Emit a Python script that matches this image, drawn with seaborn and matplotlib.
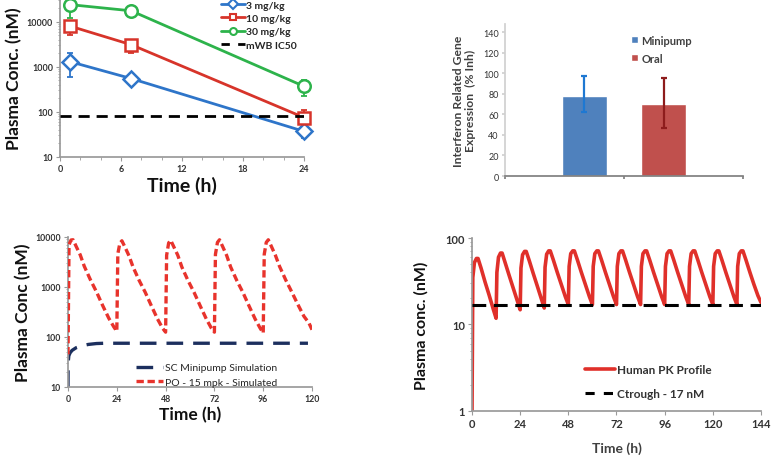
import pandas as pd
import matplotlib
matplotlib.use("Agg")
from matplotlib import pyplot as plt
from matplotlib.ticker import FuncFormatter, LogLocator, NullFormatter, MultipleLocator
from matplotlib.lines import Line2D
from matplotlib.patches import Patch
import seaborn as sns

# --- top left: single dose mouse PK ---
pk_time = [1, 7, 24]
dose_labels = ["3 mg/kg", "10 mg/kg", "30 mg/kg"]
conc_3 = [1300, 550, 37]
conc_10 = [8000, 3100, 75]
conc_30 = [24000, 17500, 370]
low_3 = [600, 480, 26]
high_3 = [2000, 620, 46]
low_10 = [5200, 2000, 65]
high_10 = [9500, 3800, 110]
low_30 = [12000, 16000, 230]
high_30 = [27000, 19000, 500]
ic50_time = [0, 24]
ic50_conc = [80, 80]

# --- top right: inhibition bars ---
bar_groups = ["Minipump", "Oral"]
bar_values = [78, 70]
bar_low = [62, 47]
bar_high = [97, 95]

# --- bottom left: simulated profiles (mouse) ---
sc_time = [0, 0.05, 0.4, 1, 2, 4, 7, 10, 14, 18, 118]
sc_conc = [10, 30, 42, 48, 54, 61, 67, 71, 74, 75, 75]
po_doses = [0, 24, 48, 72, 96]
po_offsets = [0, 0.5, 1.5, 2.5, 4, 6, 8, 11, 14, 17, 20, 22.5]
po_cycles = [
    [45, 7000, 8700, 8800, 6500, 4400, 2600, 1400, 800, 430, 240, 160],
    [130, 4600, 7500, 8400, 6300, 4200, 2500, 1350, 780, 420, 230, 150],
    [125, 4300, 7600, 8600, 6400, 4300, 2500, 1350, 780, 420, 230, 150],
    [125, 4500, 7800, 8800, 6500, 4300, 2500, 1350, 780, 420, 230, 150],
    [120, 4500, 7800, 8800, 6500, 4300, 2600, 1400, 800, 450, 260, 190],
]
po_end = [120, 140]

# --- bottom right: human PK projection ---
hu_doses = [0, 12, 24, 36, 48, 60, 72, 84, 96, 108, 120, 132]
hu_offsets = [0, 0.4, 1.2, 2.2, 3.0, 4.5, 6.5, 8.5, 10.5]
hu_cycles = [
    [1, 35, 52, 58, 58, 45, 31, 22, 15.3],
    [11.8, 40, 60, 67, 67, 52, 37, 26.5, 19],
    [14.8, 45, 64, 70, 70, 55, 39, 28, 20],
    [15.5, 46, 65, 71, 71, 56, 40, 29, 21],
    [17, 47, 66, 71, 71, 56, 40, 29, 21],
    [17, 47, 66, 71, 71, 56, 40, 29, 21],
    [17, 47, 66, 71, 71, 56, 40, 29, 21],
    [17, 47, 66, 71, 71, 56, 40, 29, 21],
    [17, 47, 66, 71, 71, 56, 40, 29, 21],
    [17, 47, 66, 71, 71, 56, 40, 29, 21],
    [17, 47, 66, 71, 71, 56, 40, 29, 21],
    [17, 47, 66, 71, 71, 56, 40, 29, 21.5],
]
hu_end = [144, 18]
ctrough_time = [0, 144]
ctrough_conc = [17, 17]

sns.set_theme(style="white")
plt.rcParams["font.family"] = ["Lato", "DejaVu Sans"]
plt.rcParams["axes.edgecolor"] = "#9a9a9a"
plt.rcParams["xtick.color"] = "#9a9a9a"
plt.rcParams["ytick.color"] = "#9a9a9a"
plt.rcParams["xtick.labelcolor"] = "#333333"
plt.rcParams["ytick.labelcolor"] = "#333333"

fig = plt.figure(figsize=(7.71, 4.64), dpi=100)
plain = FuncFormatter(lambda v, p: f"{v:g}")


def clean(ax, log=True):
    sns.despine(ax=ax)
    ax.tick_params(axis="both", which="major", direction="out", length=3, width=0.8,
                   bottom=True, left=True, pad=2)
    ax.tick_params(axis="both", which="minor", direction="out", length=1.8, width=0.6,
                   bottom=True, left=True)
    if log:
        ax.yaxis.set_major_formatter(plain)
        ax.yaxis.set_minor_locator(LogLocator(base=10, subs=range(2, 10)))
        ax.yaxis.set_minor_formatter(NullFormatter())


# ---------- panel 1 ----------
ax1 = fig.add_axes([0.0778, 0.6595, 0.3165, 0.3405])
ax1.set_yscale("log")
colors1 = ["#2E75C9", "#D7342A", "#2DB34B"]
markers1 = ["D", "s", "o"]
for conc, lo, hi, col, mk in zip([conc_3, conc_10, conc_30], [low_3, low_10, low_30],
                                 [high_3, high_10, high_30], colors1, markers1):
    err = [[c - l for c, l in zip(conc, lo)], [h - c for c, h in zip(conc, hi)]]
    ax1.errorbar(pk_time, conc, yerr=err, fmt="none", ecolor=col, elinewidth=1.3,
                 capsize=2.5, capthick=1.3, zorder=2, clip_on=False)
    sns.lineplot(x=pk_time, y=conc, ax=ax1, color=col, marker=mk, markersize=9 if mk != "D" else 8,
                 markerfacecolor="white", markeredgecolor=col, markeredgewidth=1.8,
                 linewidth=2, zorder=3, clip_on=False)
sns.lineplot(x=ic50_time, y=ic50_conc, ax=ax1, color="black", linewidth=2,
             linestyle=(0, (4, 2.5)), zorder=4)
ax1.set_xlim(0, 24)
ax1.set_ylim(10, 32000)
ax1.xaxis.set_major_locator(MultipleLocator(6))
ax1.xaxis.set_minor_locator(MultipleLocator(2))
clean(ax1)
ax1.tick_params(labelsize=6.5)
for t in ax1.get_xticklabels() + ax1.get_yticklabels():
    t.set_fontweight("bold")
ax1.set_xlabel("Time (h)", fontsize=14, fontweight="bold", color="#111111", labelpad=2)
ax1.set_ylabel("Plasma Conc. (nM)", fontsize=12.5, fontweight="bold", color="#111111", labelpad=3)
h1 = [Line2D([], [], color=c, marker=m, markersize=5, markerfacecolor="white",
             markeredgewidth=1.5, linewidth=2) for c, m in zip(colors1, markers1)]
h1.append(Line2D([], [], color="black", linewidth=2, linestyle=(0, (3, 3))))
leg1 = ax1.legend(h1, dose_labels + ["mWB IC50"], loc="upper left", bbox_to_anchor=(0.66, 0.99),
                  frameon=False, fontsize=7.5, handlelength=2.3, handletextpad=0.1,
                  labelspacing=0.38, borderaxespad=0, borderpad=0)
for t in leg1.get_texts():
    t.set_fontweight("bold")

# ---------- panel 2 ----------
ax2 = fig.add_axes([0.655, 0.6185, 0.3087, 0.3276])
bar_colors = ["#4F81BD", "#C0504D"]
err_colors = ["#1E78D2", "#8E1C1C"]
sns.barplot(x=bar_groups, y=bar_values, hue=bar_groups, palette=bar_colors, width=0.57,
            ax=ax2, legend=False, saturation=1)
for i, (v, lo, hi, ec) in enumerate(zip(bar_values, bar_low, bar_high, err_colors)):
    ax2.errorbar([i], [v], yerr=[[v - lo], [hi - v]], fmt="none", ecolor=ec, elinewidth=1.6,
                 capsize=2, capthick=1.6)
ax2.set_xlim(-1, 2)
ax2.set_ylim(0, 148)
ax2.set_yticks(range(0, 141, 20))
ax2.set_xticks([-1, 0.5, 2])
ax2.set_xticklabels([])
sns.despine(ax=ax2)
ax2.spines["left"].set_color("#d0d0d0")
ax2.spines["bottom"].set_color("#808080")
ax2.tick_params(axis="y", direction="out", length=2.5, left=True, color="#d0d0d0",
                labelsize=6.5, pad=2)
ax2.tick_params(axis="x", direction="out", length=2.5, bottom=True, color="#808080")
ax2.set_xlabel("")
ax2.set_ylabel("Interferon Related Gene\nExpression  (% Inh)", fontsize=8.7,
               fontweight="bold", color="#404040", labelpad=5, linespacing=1.1)
h2 = [Patch(facecolor=c) for c in bar_colors]
leg2 = ax2.legend(h2, bar_groups, loc="upper left", bbox_to_anchor=(0.53, 0.93),
                  frameon=False, fontsize=8, handlelength=0.6, handleheight=0.6,
                  handletextpad=0.3, labelspacing=0.65, borderaxespad=0, borderpad=0)
for t in leg2.get_texts():
    t.set_fontweight("bold")
    t.set_color("#404040")

# ---------- panel 3 ----------
ax3 = fig.add_axes([0.0882, 0.1638, 0.3165, 0.3233])
ax3.set_yscale("log")
po_time = [d + o for d in po_doses for o in po_offsets] + [po_end[0]]
po_conc = [v for cyc in po_cycles for v in cyc] + [po_end[1]]
po_df = pd.DataFrame({"time": po_time, "conc": po_conc})
sns.lineplot(data=po_df, x="time", y="conc", ax=ax3, color="#E8332C", linewidth=2.4,
             linestyle=(0, (2.2, 1.1)), estimator=None, sort=False, zorder=3)
sns.lineplot(x=sc_time, y=sc_conc, ax=ax3, color="#1C2F5E", linewidth=2.4,
             linestyle=(0, (5, 3)), estimator=None, sort=False, zorder=2)
ax3.set_xlim(0, 120)
ax3.set_ylim(10, 10000)
ax3.set_xticks(range(0, 121, 24))
clean(ax3)
ax3.tick_params(labelsize=6.3)
for t in ax3.get_xticklabels() + ax3.get_yticklabels():
    t.set_fontweight("bold")
ax3.set_xlabel("Time (h)", fontsize=12.5, fontweight="bold", color="#111111", labelpad=2)
ax3.set_ylabel("Plasma Conc (nM)", fontsize=12.5, fontweight="bold", color="#111111", labelpad=3)
h3 = [Line2D([], [], color="#1C2F5E", linewidth=2.4, linestyle=(0, (5, 3))),
      Line2D([], [], color="#E8332C", linewidth=2.4, linestyle=(0, (2.2, 1.1)))]
ax3.legend(h3, ["SC Minipump Simulation", "PO - 15 mpk - Simulated"], loc="upper left",
           bbox_to_anchor=(0.28, 0.16), frameon=False, fontsize=7.5, handlelength=2.6,
           handletextpad=0.15, labelspacing=0.5, borderaxespad=0, borderpad=0)

# ---------- panel 4 ----------
ax4 = fig.add_axes([0.6122, 0.1121, 0.3748, 0.3728])
ax4.set_yscale("log")
hu_time = [d + o for d in hu_doses for o in hu_offsets] + [hu_end[0]]
hu_conc = [v for cyc in hu_cycles for v in cyc] + [hu_end[1]]
hu_df = pd.DataFrame({"time": hu_time, "conc": hu_conc})
sns.lineplot(data=hu_df, x="time", y="conc", ax=ax4, color="#E0302A", linewidth=2.6,
             estimator=None, sort=False, zorder=2)
sns.lineplot(x=ctrough_time, y=ctrough_conc, ax=ax4, color="black", linewidth=2.2,
             linestyle=(0, (4.5, 2.5)), zorder=3)
ax4.set_xlim(0, 144)
ax4.set_ylim(1, 100)
ax4.set_xticks(range(0, 145, 24))
clean(ax4)
ax4.tick_params(labelsize=8)
for t in ax4.get_xticklabels() + ax4.get_yticklabels():
    t.set_fontweight("bold")
ax4.set_xlabel("Time (h)", fontsize=10, fontweight="bold", color="#404040", labelpad=9)
ax4.set_ylabel("Plasma conc. (nM)", fontsize=11.5, fontweight="bold", color="#111111", labelpad=12)
h4 = [Line2D([], [], color="#E0302A", linewidth=2.6),
      Line2D([], [], color="black", linewidth=2.2, linestyle=(0, (3, 3)))]
leg4 = ax4.legend(h4, ["Human PK Profile", "Ctrough - 17 nM"], loc="upper left",
                  bbox_to_anchor=(0.39, 0.27), frameon=False, fontsize=8.5, handlelength=2.6,
                  handletextpad=0.1, labelspacing=1.05, borderaxespad=0, borderpad=0)
for t in leg4.get_texts():
    t.set_fontweight("bold")
    t.set_color("#333333")

fig.savefig("out.png", dpi=100)
